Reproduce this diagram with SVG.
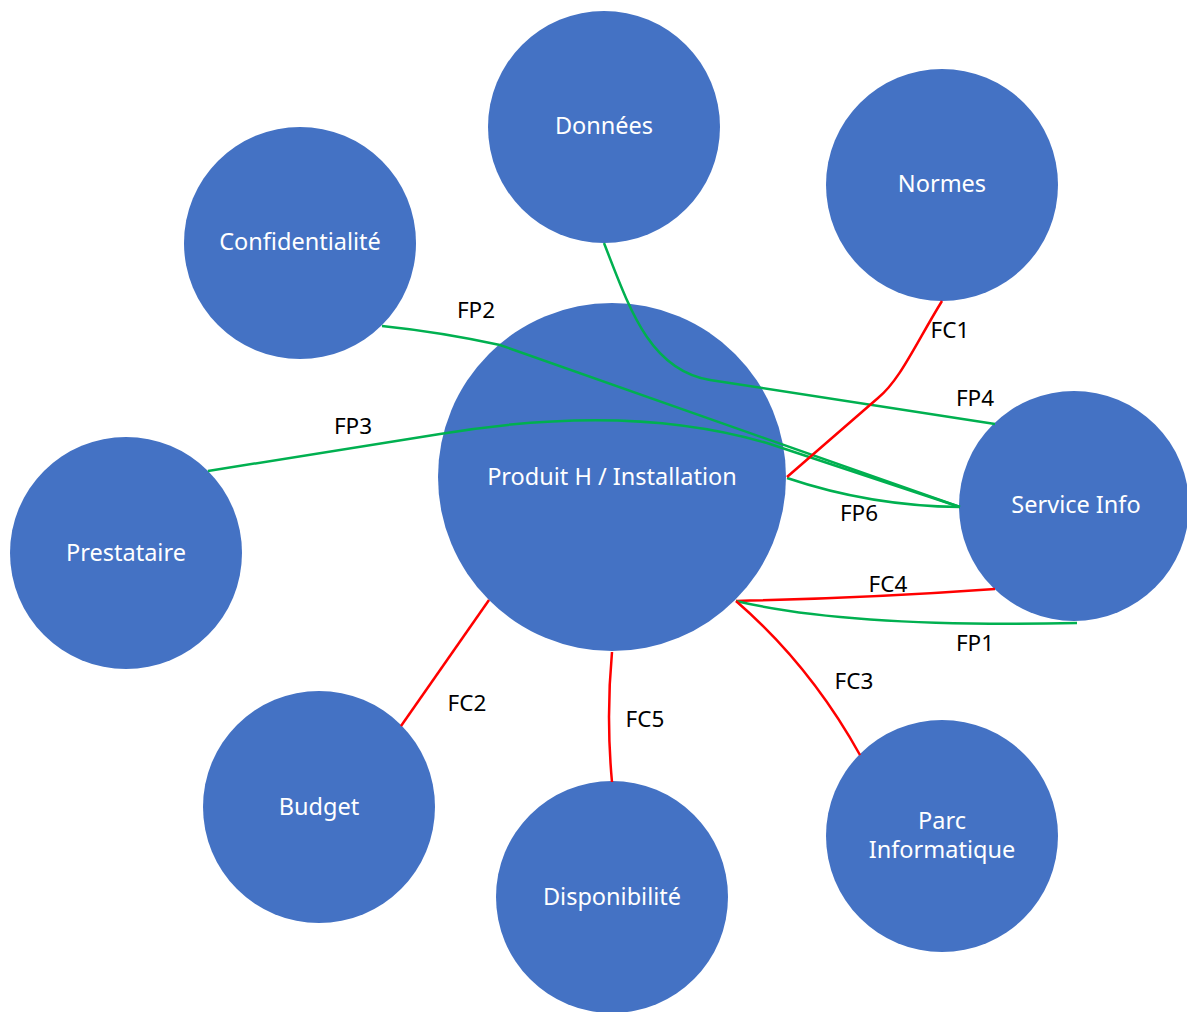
<svg xmlns="http://www.w3.org/2000/svg" width="1187" height="1012" viewBox="0 0 1187 1012">
<style>
.node circle{fill:#4472C4;}
.node text{fill:#ffffff;font-family:"Noto Sans","Liberation Sans",sans-serif;font-size:23.5px;text-anchor:middle;}
.fp{fill:none;stroke:#00B050;stroke-width:2.5;}
.fc{fill:none;stroke:#FF0000;stroke-width:2.5;}
.lbl{fill:#000000;font-family:"Noto Sans","Liberation Sans",sans-serif;font-size:22.5px;text-anchor:middle;}
</style>
<rect width="1187" height="1012" fill="#ffffff"/>
<g id="nodes">
<g id="donnees" class="node"><circle cx="604" cy="127" r="116"/><text x="604" y="134">Données</text></g>
<g id="normes" class="node"><circle cx="942" cy="185" r="116"/><text x="942" y="192">Normes</text></g>
<g id="confidentialite" class="node"><circle cx="300" cy="243" r="116"/><text x="300" y="250">Confidentialité</text></g>
<g id="prestataire" class="node"><circle cx="126" cy="553" r="116"/><text x="126" y="561">Prestataire</text></g>
<g id="produit" class="node"><circle cx="612" cy="477" r="174"/><text x="612" y="485">Produit H / Installation</text></g>
<g id="service" class="node"><circle cx="1074" cy="506" r="115"/><text x="1076" y="513">Service Info</text></g>
<g id="budget" class="node"><circle cx="319" cy="807" r="116"/><text x="319" y="815">Budget</text></g>
<g id="disponibilite" class="node"><circle cx="612" cy="897" r="116"/><text x="612" y="905">Disponibilité</text></g>
<g id="parc" class="node"><circle cx="942" cy="836" r="116"/><text x="942" y="829">Parc</text><text x="942" y="858">Informatique</text></g>
</g>
<g id="connectors">
<path class="fp" d="M604,243 C630,310 650,370 710,380 L995,424"/>
<path class="fp" d="M382,326 Q440,332 500,345 L960,507"/>
<path class="fp" d="M208,471 L440,434 C560,414 670,414 770,444 L960,507"/>
<path class="fp" d="M787,478 Q870,506 960,507"/>
<path class="fc" d="M942,301 C915,345 900,380 878,398 L787,477"/>
<path class="fc" d="M736,601 Q870,598 995,589"/>
<path class="fp" d="M736,601 Q850,628 1077,623"/>
<path class="fc" d="M736,601 Q810,665 860,755"/>
<path class="fc" d="M612,652 Q606,717 612,782"/>
<path class="fc" d="M489,600 L401,726"/>
</g>
<g id="labels">
<text class="lbl" x="476" y="318">FP2</text>
<text class="lbl" x="353" y="434">FP3</text>
<text class="lbl" x="950" y="338">FC1</text>
<text class="lbl" x="975" y="406">FP4</text>
<text class="lbl" x="859" y="521">FP6</text>
<text class="lbl" x="888" y="592">FC4</text>
<text class="lbl" x="975" y="651">FP1</text>
<text class="lbl" x="854" y="689">FC3</text>
<text class="lbl" x="467" y="711">FC2</text>
<text class="lbl" x="645" y="727">FC5</text>
</g>
</svg>
